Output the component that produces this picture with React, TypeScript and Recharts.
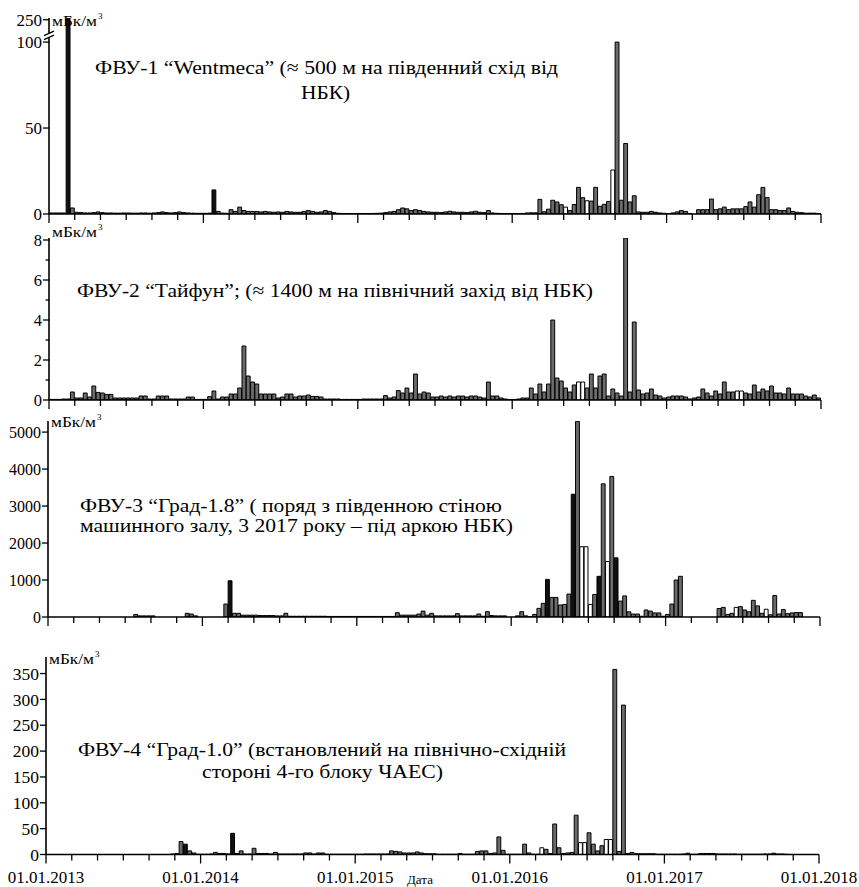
import React from "react";
import { BarChart, Bar, XAxis, YAxis, Cell } from "recharts";

// ---- data: dekad (10-day) values, 01.01.2013 – 01.01.2018, 36 per year ----
const fvu1Values: (number | null)[] = [
  // 2013
  0.6, 0.6, 0.6, 0.6, 250, 3.5, 1, 0.8, 0.6, 0.6, 0.8, 1.2, 0.8, 0.6, 0.6, 0.5, 0.5, 0.6, 0.6, 0.5, 0.5, 0.6, 0.6, 0.5, 0.6, 0.8, 1.2, 0.8, 0.6, 0.8, 1.2, 0.8, 0.6, 0.5, 0.4, 0.4,
  // 2014
  0.4, 0.5, 14, 1.5, 0.5, 0.4, 2.5, 1.5, 4, 2, 1.5, 1.5, 1.5, 1.2, 1.5, 1.2, 1, 1.2, 1, 1.5, 1.2, 1, 1, 1.5, 2, 1.5, 1, 1.2, 2, 1.5, 0.8, 0.4, 0.3, 0.3, 0.3, 0.3,
  // 2015
  0.3, 0.3, 0.3, 0.3, 0.4, 0.5, 0.8, 1.2, 1.5, 2.5, 3.5, 3, 2, 2.5, 2, 1.5, 1.2, 1, 1, 0.8, 1.2, 1.6, 1.2, 1, 1, 0.8, 1.2, 1.6, 1, 0.8, 2, 0.6, 0.4, 0.3, 0.3, 0.3,
  // 2016
  0.3, 0.3, 0.3, 0.6, 0.7, 0.7, 8.5, 1.3, 2.8, 8, 7, 5.4, 4, 2, 5.5, 15.5, 9.5, 7.7, 7.5, 15.5, 4.5, 5.6, 7.3, 25.6, 100, 8, 41, 7, 10.6, 1.2, 1, 1, 1.5, 1, 0.6, 0.4,
  // 2017
  0.3, 0.6, 1.2, 2, 1.5, 0.3, 0, 2.5, 2.5, 2.5, 8.7, 2.5, 3, 4, 2.5, 3, 3, 3, 4.3, 7, 4, 11.2, 15.5, 9.5, 2.5, 2.5, 2, 2, 3.5, 1.5, 1, 0.8, 0.5, 0.5, 0.5, 0.3,
];
const fvu1Open = [120, 125, 131];
const fvu1Dark = [4, 38];

const fvu2Values: (number | null)[] = [
  // 2013
  0.03, 0.03, 0.03, 0.05, 0.05, 0.4, 0.1, 0.1, 0.35, 0.15, 0.7, 0.38, 0.35, 0.28, 0.28, 0.1, 0.1, 0.1, 0.1, 0.1, 0.1, 0.2, 0.2, 0.05, 0.05, 0.2, 0.2, 0.2, 0.05, 0.05, 0.05, 0.05, 0.15, 0.15, 0.03, 0.03,
  // 2014
  0.03, 0.17, 0.45, 0.05, 0.15, 0.15, 0.3, 0.3, 0.6, 2.7, 1.2, 0.9, 0.8, 0.3, 0.3, 0.3, 0.3, 0.1, 0.15, 0.3, 0.3, 0.15, 0.2, 0.2, 0.25, 0.18, 0.18, 0.15, 0.05, 0.05, 0.05, 0.05, 0.03, 0.03, 0.03, 0.03,
  // 2015
  0.03, 0.05, 0.05, 0.05, 0.05, 0.05, 0.22, 0.1, 0.15, 0.47, 0.35, 0.6, 0.35, 1.3, 0.3, 0.4, 0.35, 0.15, 0.15, 0.2, 0.15, 0.2, 0.15, 0.2, 0.2, 0.15, 0.2, 0.2, 0.15, 0.1, 0.9, 0.2, 0.2, 0.1, 0.05, 0.02,
  // 2016
  0.02, 0.05, 0.1, 0.1, 0.6, 0.3, 0.8, 0.4, 0.8, 4.0, 1.1, 0.95, 0.6, 0.4, 0.75, 0.9, 0.9, 0.6, 1.3, 0.6, 1.2, 1.3, 0.2, 0.55, 0.35, 0.2, 8.1, 0.4, 3.9, 0.5, 0.3, 0.35, 0.55, 0.25, 0.2, 0.1,
  // 2017
  0.15, 0.2, 0.2, 0.2, 0.15, 0.05, 0.1, 0.15, 0.55, 0.35, 0.2, 0.45, 0.3, 0.9, 0.4, 0.4, 0.45, 0.45, 0.35, 0.3, 0.75, 0.4, 0.55, 0.45, 0.7, 0.35, 0.35, 0.3, 0.6, 0.3, 0.3, 0.3, 0.2, 0.15, 0.25, 0.1,
];
const fvu2Open = [123, 124, 160, 161];
const fvu2Dark: number[] = [];

const N = null;
const fvu3Values: (number | null)[] = [
  // 2013
  N, N, N, N, N, N, N, N, N, N, N, N, N, N, N, N, N, N, N, N, 70, 30, 30, 30, 30, N, N, N, N, N, N, N, 100, 80, 30, N,
  // 2014
  N, N, N, N, N, 350, 980, 100, 100, 50, 50, 50, 50, 40, 40, 40, 40, 30, 30, 100, 20, 20, 20, 20, 20, 20, 20, 20, 20, 15, 15, 15, 15, 15, 15, 15,
  // 2015
  15, 15, 15, 15, 15, 15, 15, 15, 15, 117, 50, 50, 50, 50, 80, 160, 50, 100, 30, 30, 30, 30, 30, 90, 30, 30, 30, 30, 80, 20, 144, 40, 30, 30, 30, N,
  // 2016
  N, 30, 144, 30, 5, 70, 234, 370, 1017, 530, 530, 324, 340, 620, 3320, 5290, 1900, 1900, 340, 610, 1100, 3600, 1500, 3800, 1600, 430, 570, 140, 80, 80, 20, 190, 160, 110, 110, 20,
  // 2017
  70, 350, 1000, 1100, N, N, N, N, N, N, N, N, 230, 260, 70, 100, 260, 280, 190, 140, 450, 300, 100, 210, 60, 580, 80, 200, 90, 110, 120, 120, N, N, N, N,
];
const fvu3Open = [124, 125, 126, 130, 160, 167];
const fvu3Dark = [42, 116, 122, 128, 132];

const fvu4Values: (number | null)[] = [
  // 2013
  N, N, N, N, N, N, N, N, N, N, N, N, N, N, N, N, N, N, N, N, N, N, N, N, N, N, N, N, N, 1, 2, 25, 20, 7, 3, 0.5,
  // 2014
  0.5, 0.5, 1, 4, 2, 2, 1, 41, 2, 7, 1, 1, 12, 2, 2, 2, 1, 4, 1, 1, 1, 1, 1, 1, 3, 3, 1, 3, 3, 0.5, 0.5, 0.5, 0.5, 0.5, 0.5, 0.5,
  // 2015
  0.5, 0.5, 1, 1, 1, 1, 1, 1, 7, 6, 5, 3, 3, 3, 5, 3, 1.5, 1.5, 1.5, 0.5, 0.5, 0.5, 0.5, 0.5, 2, 0.5, 0.5, 0.5, 6, 7, 7, 2, 3, 34, 8, 0.5,
  // 2016
  0.5, 0.5, 0.5, 20, 3, 0.5, 0.5, 13, 10, 2, 59, 13, 2, 3, 4, 76, 23, 23, 42, 20, 7, 17, 29, 29, 358, 6, 289, 2, 4, 1.5, 1.5, 1.5, 1.5, 1.5, 0.5, 0.5,
  // 2017
  0.5, 0.5, 0.5, 0.5, 1, 2.5, 0.5, 0.5, 2, 2, 2, 2, 1, 1, 1, 1, 1, 0.5, 0.5, 0.5, 0.5, 0.5, 0.5, 1, 1, 2.5, 1, 1, 0.5, N, N, N, N, N, N, N,
];
const fvu4Open = [115, 124, 125, 130, 131];
const fvu4Dark = [32, 43];

// x ticks every 2 months (6 dekads); year ticks every 36 dekads
const xTicks = [0, 6, 12, 18, 24, 30, 36, 42, 48, 54, 60, 66, 72, 78, 84, 90, 96, 102, 108, 114, 120, 126, 132, 138, 144, 150, 156, 162, 168, 174, 180];
const yearTicks = [0, 36, 72, 108, 144, 180];
const yearLabels = ["01.01.2013", "01.01.2014", "01.01.2015", "01.01.2016", "01.01.2017", "01.01.2018"];

const y1Ticks = [0, 50, 100, 113];
const y1Labels = ["0", "50", "100", "250"];
const y2Ticks = [0, 1, 2, 3, 4, 5, 6, 7, 8];
const y2Labels = ["0", "", "2", "", "4", "", "6", "", "8"];
const y3Ticks = [0, 1000, 2000, 3000, 4000, 5000];
const y3Labels = ["0", "1000", "2000", "3000", "4000", "5000"];
const y4Ticks = [0, 50, 100, 150, 200, 250, 300, 350];
const y4Labels = ["0", "50", "100", "150", "200", "250", "300", "350"];

const FONT = "Liberation Serif";
const W = 859;
const GRAY = "#6b6b6b";
const txtStyle = { fontFamily: FONT, fontWeight: 400 } as React.CSSProperties;

function XTick(props: any) {
  const { x, y, payload, showLabel } = props;
  const v = payload.value;
  const yi = yearTicks.indexOf(v);
  const isYear = yi >= 0;
  return (
    <g>
      <line x1={x} x2={x} y1={y} y2={y + (isYear ? 9 : 6)} stroke="#000" strokeWidth={1.3} />
      {showLabel && isYear && (
        <text x={x} y={y + 28} textAnchor="middle" style={txtStyle} fontSize={17} fill="#000">
          {yearLabels[yi]}
        </text>
      )}
    </g>
  );
}

function YTick(props: any) {
  const { x, y, payload, ticks, labels, fontSize, breakAt } = props;
  const idx = ticks.indexOf(payload.value);
  const label = idx >= 0 ? labels[idx] : "";
  const minor = label === "";
  return (
    <g>
      <line x1={x} x2={x - (minor ? 3.5 : 6)} y1={y} y2={y} stroke="#000" strokeWidth={1.3} />
      {!minor && (
        <text x={x - 7} y={y} dy="0.35em" textAnchor="end" style={txtStyle} fontSize={fontSize} fill="#000">
          {label}
        </text>
      )}
      {breakAt === payload.value && (
        <g>
          <polygon points={`${x - 4},${y - 3} ${x + 5},${y - 7} ${x + 5},${y - 11} ${x - 4},${y - 7}`} fill="#fff" />
          <line x1={x - 5} y1={y - 2.5} x2={x + 5} y2={y - 7} stroke="#000" strokeWidth={1.3} />
          <line x1={x - 5} y1={y - 6.5} x2={x + 5} y2={y - 11} stroke="#000" strokeWidth={1.3} />
        </g>
      )}
    </g>
  );
}

type PanelProps = {
  values: (number | null)[];
  open: number[];
  dark: number[];
  left: number;
  right: number;
  top: number;
  bottom: number;
  domain: [number, number];
  yTicks: number[];
  yLabels: string[];
  tickFont: number;
  showX: boolean;
  breakAt?: number;
};

function Panel(p: PanelProps) {
  const MT = 8;
  const XH = p.showX ? 40 : 14;
  const H = MT + (p.bottom - p.top) + XH;
  const rows = p.values.map((v, i) => ({ x: i + 0.5, v }));
  const bw = (p.right - p.left) / p.values.length;
  return (
    <div style={{ position: "absolute", left: 0, top: p.top - MT, width: W, height: H }}>
      <BarChart
        width={W}
        height={H}
        data={rows}
        margin={{ top: MT, right: W - p.right, bottom: 0, left: 0 }}
        barCategoryGap={0}
        barGap={0}
      >
        <XAxis
          type="number"
          dataKey="x"
          domain={[0, 180]}
          ticks={xTicks}
          interval={0}
          height={XH}
          tickSize={0}
          tickMargin={0}
          tickLine={false}
          axisLine={{ stroke: "#000", strokeWidth: 1.6 }}
          tick={(tp: any) => <XTick {...tp} showLabel={p.showX} />}
          allowDataOverflow
        />
        <YAxis
          type="number"
          domain={p.domain}
          ticks={p.yTicks}
          interval={0}
          width={p.left}
          tickSize={0}
          tickMargin={0}
          tickLine={false}
          axisLine={{ stroke: "#000", strokeWidth: 1.6 }}
          tick={(tp: any) => (
            <YTick {...tp} ticks={p.yTicks} labels={p.yLabels} fontSize={p.tickFont} breakAt={p.breakAt} />
          )}
          allowDataOverflow
        />
        <Bar dataKey="v" isAnimationActive={false} barSize={bw} stroke="#000" strokeWidth={1}>
          {rows.map((r, i) => (
            <Cell
              key={i}
              fill={p.open.includes(i) ? "#ffffff" : p.dark.includes(i) ? "#111111" : GRAY}
            />
          ))}
        </Bar>
      </BarChart>
    </div>
  );
}

function Unit({ x, y }: { x: number; y: number }) {
  return (
    <g>
      <text x={x} y={y} style={txtStyle} fontSize={14} textLength={45} lengthAdjust="spacingAndGlyphs" fill="#000">
        мБк/м
      </text>
      <text x={x + 46} y={y - 7} style={txtStyle} fontSize={9} fill="#000">
        3
      </text>
    </g>
  );
}

function Title({ x, y, w, text }: { x: number; y: number; w: number; text: string }) {
  return (
    <text x={x} y={y} style={txtStyle} fontSize={19.5} textLength={w} lengthAdjust="spacingAndGlyphs" fill="#000">
      {text}
    </text>
  );
}

export default function App() {
  return (
    <div style={{ position: "absolute", left: 0, top: 0, width: W, height: 887, background: "#fff", overflow: "hidden", fontFamily: FONT }}>
      <Panel values={fvu1Values} open={fvu1Open} dark={fvu1Dark} left={49} right={821} top={18} bottom={214}
        domain={[0, 114]} yTicks={y1Ticks} yLabels={y1Labels} tickFont={17} showX={false} breakAt={100} />
      <Panel values={fvu2Values} open={fvu2Open} dark={fvu2Dark} left={49} right={821} top={238} bottom={400}
        domain={[0, 8.1]} yTicks={y2Ticks} yLabels={y2Labels} tickFont={16.5} showX={false} />
      <Panel values={fvu3Values} open={fvu3Open} dark={fvu3Dark} left={48} right={820} top={421} bottom={617}
        domain={[0, 5300]} yTicks={y3Ticks} yLabels={y3Labels} tickFont={16} showX={false} />
      <Panel values={fvu4Values} open={fvu4Open} dark={fvu4Dark} left={46} right={819} top={657} bottom={854.5}
        domain={[0, 382]} yTicks={y4Ticks} yLabels={y4Labels} tickFont={17.5} showX={true} />
      <svg width={W} height={887} style={{ position: "absolute", left: 0, top: 0, pointerEvents: "none" }}>
        <Unit x={52} y={26} />
        <Unit x={52} y={237} />
        <Unit x={51} y={427} />
        <Unit x={49} y={664} />
        <Title x={95} y={74} w={463} text="ФВУ-1 “Wentmeca” (≈ 500 м на південний схід від" />
        <Title x={301} y={99} w={49} text="НБК)" />
        <Title x={77} y={297} w={516} text="ФВУ-2 “Тайфун”; (≈ 1400 м на північний захід від НБК)" />
        <Title x={80} y={512} w={422} text="ФВУ-3 “Град-1.8” ( поряд з південною стіною" />
        <Title x={80} y={532} w={433} text="машинного залу, 3 2017 року – під аркою НБК)" />
        <Title x={78} y={756} w={488} text="ФВУ-4 “Град-1.0” (встановлений на північно-східній" />
        <Title x={202} y={778} w={241} text="стороні 4-го блоку ЧАЕС)" />
        <text x={407} y={884} style={txtStyle} fontSize={13} fill="#000">Дата</text>
      </svg>
    </div>
  );
}
